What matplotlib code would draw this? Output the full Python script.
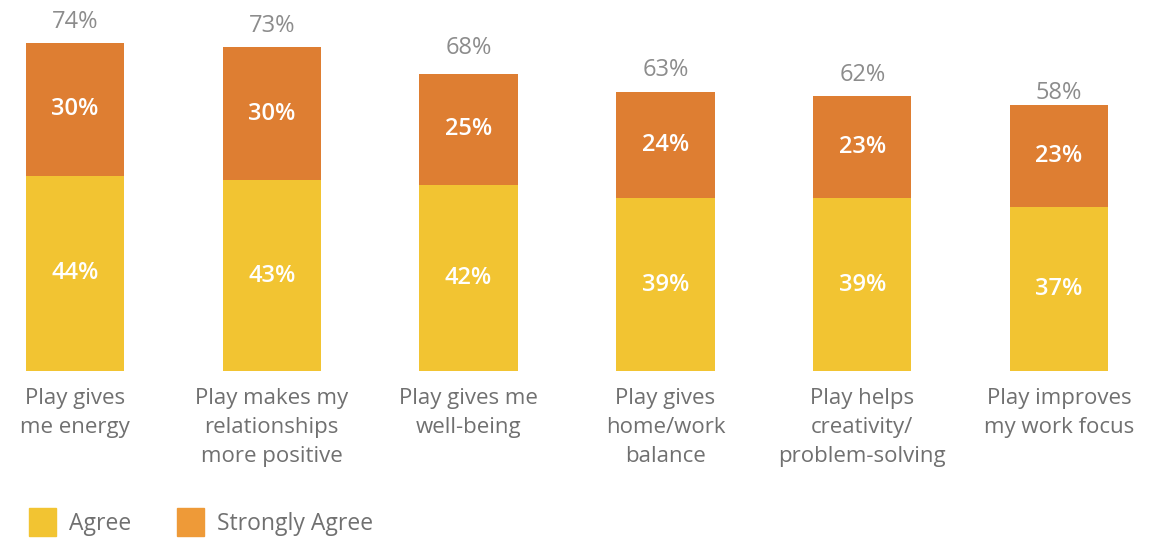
import matplotlib.pyplot as plt
from matplotlib.patches import Patch

# Survey answers, percent of respondents
categories = ['Play gives\nme energy',
              'Play makes my\nrelationships\nmore positive',
              'Play gives me\nwell-being',
              'Play gives\nhome/work\nbalance',
              'Play helps\ncreativity/\nproblem-solving',
              'Play improves\nmy work focus']
agree = [44, 43, 42, 39, 39, 37]
strongly_agree = [30, 30, 25, 24, 23, 23]
totals = [74, 73, 68, 63, 62, 58]

yellow = '#F2C432'
orange = '#DE7E32'
orange_legend = '#EE9A38'
grey_total = '#8C8C8C'
grey_text = '#707070'

plt.rcParams['font.family'] = ['Open Sans', 'DejaVu Sans']

fig = plt.figure(figsize=(11.63, 5.40), dpi=100)
ax = fig.add_axes([0, 169 / 540, 1, 371 / 540])

x = list(range(len(categories)))
ax.bar(x, agree, width=0.5, color=yellow)
ax.bar(x, strongly_agree, width=0.5, bottom=agree, color=orange)

for i in x:
    ax.text(i, agree[i] / 2, f'{agree[i]}%', ha='center', va='center',
            color='white', fontsize=17, fontweight='semibold')
    ax.text(i, agree[i] + strongly_agree[i] / 2, f'{strongly_agree[i]}%',
            ha='center', va='center', color='white', fontsize=17,
            fontweight='semibold')
    ax.text(i, totals[i] + 2.1, f'{totals[i]}%', ha='center', va='bottom',
            color=grey_total, fontsize=17)

ax.set_xlim(-0.381, 5.528)
ax.set_ylim(0, 83.7)
ax.set_xticks(x)
ax.set_xticklabels(categories, fontsize=16, color=grey_text, linespacing=1.5,
                   va='top')
ax.tick_params(axis='x', length=0, pad=12)
ax.set_yticks([])
for s in ax.spines.values():
    s.set_visible(False)

handles = [Patch(color=yellow, label='Agree'),
           Patch(color=orange_legend, label='Strongly Agree')]
fig.legend(handles=handles, loc='lower left', bbox_to_anchor=(0.007, -0.03),
           ncol=2, frameon=False, fontsize=16.5, labelcolor=grey_text,
           handlelength=1.2, handleheight=1.45, handletextpad=0.55,
           columnspacing=2.0)

fig.savefig('out.png', dpi=100)
